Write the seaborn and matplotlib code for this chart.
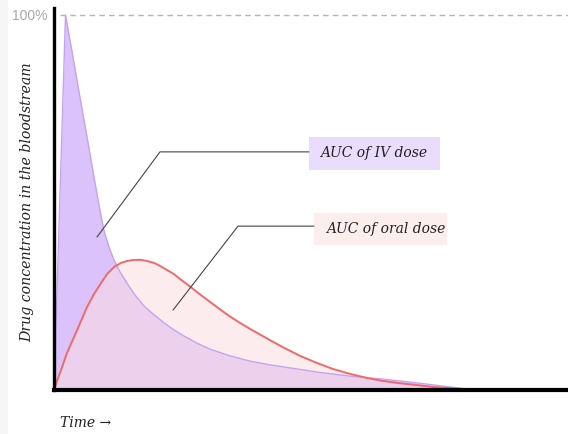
import numpy as np
import pandas as pd
import matplotlib
matplotlib.use("Agg")
import matplotlib.pyplot as plt
import seaborn as sns
from matplotlib.patches import Rectangle

# ---- data ----
iv_time = [0.0, 0.224, 0.389, 0.525, 0.642, 0.778, 0.875, 0.973, 1.070, 1.167,
           1.284, 1.420, 1.576, 1.751, 1.926, 2.140, 2.335, 2.529, 2.782, 3.035,
           3.424, 3.813, 4.202, 4.591, 5.117, 5.759, 6.401, 7.062, 7.704, 8.230]
iv_conc = [0.0, 100.0, 87.2, 76.5, 67.5, 56.8, 49.3, 42.4, 38.1, 34.7,
           31.5, 28.5, 25.3, 22.4, 20.3, 17.9, 16.0, 14.4, 12.5, 10.9,
           9.1, 7.7, 6.7, 5.9, 4.8, 3.7, 2.9, 1.9, 0.8, 0.0]
oral_time = [0.0, 0.058, 0.136, 0.253, 0.389, 0.525, 0.642, 0.778, 0.914, 1.031,
             1.167, 1.304, 1.420, 1.556, 1.693, 1.809, 1.946, 2.062, 2.198, 2.335,
             2.451, 2.646, 2.840, 3.035, 3.230, 3.424, 3.619, 3.813, 4.008, 4.202,
             4.455, 4.786, 5.117, 5.428, 5.759, 6.089, 6.401, 6.732, 7.062, 7.374,
             7.704, 8.230]
oral_conc = [0.0, 2.4, 5.3, 9.9, 14.1, 18.4, 22.1, 25.6, 28.5, 30.9,
             32.8, 33.9, 34.4, 34.7, 34.7, 34.4, 33.9, 33.1, 32.0, 30.9,
             29.6, 27.6, 25.5, 23.5, 21.5, 19.6, 17.9, 16.3, 14.8, 13.3,
             11.4, 9.1, 7.2, 5.6, 4.3, 3.2, 2.4, 1.8, 1.3, 0.8,
             0.5, 0.0]
max_label = "100%"
y_label = "Drug concentration in the bloodstream"
x_label = "Time \u2192"
iv_label = "AUC of IV dose"
oral_label = "AUC of oral dose"

iv_df = pd.DataFrame({"time": iv_time, "conc": iv_conc})
oral_df = pd.DataFrame({"time": oral_time, "conc": oral_conc})

sns.set_theme(style="white")
plt.rcParams["font.family"] = ["DejaVu Sans"]

W, H = 568, 434
fig = plt.figure(figsize=(W / 100, H / 100), dpi=100)
fig.patch.set_facecolor("white")
fig.patches.append(Rectangle((0, 0), 8 / W, 1, transform=fig.transFigure,
                             facecolor="#f6f6f6", edgecolor="none", zorder=-10))

ax = fig.add_axes([54 / W, 44 / H, 1 - 54 / W, (390 - 8) / H])
ax.set_facecolor("white")
ax.set_xlim(0, 10)
ax.set_ylim(0, 100 * (390 - 8) / 375)

iv_fill = "#dcc2fb"
iv_line = "#c4a4f2"
oral_fill = "#fbdde0"
oral_line = "#ef6a6a"

ax.fill_between(iv_df["time"], iv_df["conc"], color=iv_fill, lw=0, zorder=1)
ax.fill_between(oral_df["time"], oral_df["conc"], color=oral_fill, alpha=0.55,
                lw=0, zorder=2)
sns.lineplot(data=iv_df, x="time", y="conc", ax=ax, color=iv_line, lw=1.0,
             sort=False, zorder=3)
sns.lineplot(data=oral_df, x="time", y="conc", ax=ax, color=oral_line, lw=1.4,
             sort=False, zorder=4)

# 100% reference line
ax.axhline(100, xmin=0.012, xmax=1, color="#b5b5b5", lw=1.0, ls=(0, (4, 3)),
           zorder=0)

for s in ["top", "right"]:
    ax.spines[s].set_visible(False)
ax.spines["left"].set_color("black")
ax.spines["left"].set_linewidth(2.4)
ax.spines["bottom"].set_color("black")
ax.spines["bottom"].set_linewidth(3.0)
ax.spines["left"].set_zorder(6)
ax.spines["bottom"].set_zorder(6)

ax.set_xticks([])
ax.set_yticks([100])
ax.set_yticklabels([max_label], color="#a8a8a8", fontsize=10,
                   family=["Liberation Sans", "DejaVu Sans"])
ax.tick_params(axis="y", length=0, pad=5)
ax.set_xlabel("")
ax.set_ylabel("")

serif = ["DejaVu Serif"]
fig.text(27 / W, 1 - 202 / H, y_label, rotation=90, ha="center", va="center",
         family=serif, style="italic", fontsize=10.2, color="#222222")
fig.text(60 / W, 1 - 423 / H, x_label, ha="left", va="center",
         family=serif, style="italic", fontsize=10, color="#222222")

# annotation leader lines and boxes (layout, in data coords)
ax.plot([0.837, 2.062, 4.961], [40.8, 63.5, 63.5], color="#444444", lw=0.8,
        zorder=7)
ax.plot([2.315, 3.580, 5.058], [21.3, 43.7, 43.7], color="#444444", lw=0.8,
        zorder=7)
ax.add_patch(Rectangle((4.961, 58.7), 7.510 - 4.961, 67.5 - 58.7,
                       facecolor="#e9dcfc", edgecolor="none", zorder=5))
ax.add_patch(Rectangle((5.058, 38.7), 7.646 - 5.058, 47.2 - 38.7,
                       facecolor="#fdeeee", edgecolor="none", zorder=5))
ax.text(5.175, 63.2, iv_label, ha="left", va="center", family=serif,
        style="italic", fontsize=10, color="#222222", zorder=8)
ax.text(5.29, 42.9, oral_label, ha="left", va="center", family=serif,
        style="italic", fontsize=10, color="#222222", zorder=8)

fig.savefig("out.png", dpi=100, facecolor=fig.get_facecolor())
